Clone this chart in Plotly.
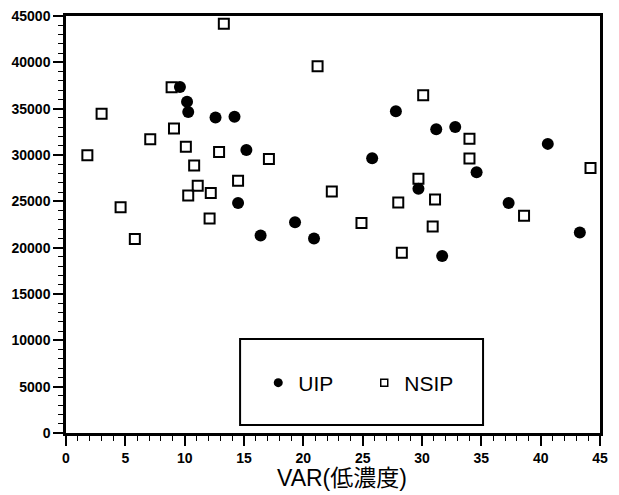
import plotly.graph_objects as go

# UIP (filled circles)
uip_x = [9.6, 10.2, 10.3, 12.6, 14.2, 15.2, 14.5, 16.4, 19.3, 20.9,
         25.8, 27.8, 29.7, 31.2, 32.8, 34.6, 31.7, 37.3, 40.6, 43.3]
uip_y = [37350, 35750, 34650, 34050, 34120, 30540, 24830, 21320, 22740, 21000,
         29650, 34730, 26350, 32770, 33020, 28130, 19090, 24830, 31200, 21640]

# NSIP (open squares)
nsip_x = [1.8, 3.0, 4.6, 5.8, 7.1, 8.9, 9.1, 10.1, 10.3, 10.8,
          11.1, 12.2, 12.1, 13.3, 12.9, 14.5, 17.1, 21.2, 22.4, 24.9,
          28.0, 29.7, 30.1, 31.1, 30.9, 34.0, 34.0, 38.6, 44.2, 28.3]
nsip_y = [29970, 34440, 24370, 20930, 31710, 37320, 32850, 30900, 25640, 28880,
          26680, 25900, 23160, 44160, 30330, 27210, 29580, 39580, 26070, 22660,
          24870, 27450, 36460, 25190, 22280, 31750, 29620, 23450, 28590, 19440]

x_title = "VAR(低濃度)"
series_names = ["UIP", "NSIP"]

fig = go.Figure()
fig.add_trace(go.Scatter(
    x=uip_x, y=uip_y, mode="markers", name=series_names[0], showlegend=False,
    marker=dict(symbol="circle", size=12, color="black"),
))
fig.add_trace(go.Scatter(
    x=nsip_x, y=nsip_y, mode="markers", name=series_names[1], showlegend=False,
    marker=dict(symbol="square-open", size=10, color="black", line=dict(width=2, color="black")),
))
# legend entries (smaller symbols, as in the reference legend)
fig.add_trace(go.Scatter(
    x=[None], y=[None], mode="markers", name=series_names[0],
    marker=dict(symbol="circle", size=9, color="black"),
))
fig.add_trace(go.Scatter(
    x=[None], y=[None], mode="markers", name=series_names[1],
    marker=dict(symbol="square-open", size=7, color="black", line=dict(width=1.5, color="black")),
))

tickfont = dict(family="Liberation Sans, Arial, sans-serif", size=14, color="black", weight="bold")

fig.update_xaxes(
    range=[0, 45], tick0=0, dtick=5, ticks="outside", ticklen=10, tickwidth=1.5,
    tickcolor="black", showline=True, linecolor="black", linewidth=2.5, mirror=True,
    showgrid=False, zeroline=False, tickfont=tickfont, automargin=False,
    ticklabeloverflow="allow",
    minor=dict(dtick=1, ticks="outside", ticklen=5, tickwidth=1, tickcolor="black"),
)
fig.update_yaxes(
    range=[0, 45000], tick0=0, dtick=5000, ticks="outside", ticklen=10, tickwidth=1.5,
    tickcolor="black", showline=True, linecolor="black", linewidth=2.5, mirror=True,
    showgrid=False, zeroline=False, tickfont=tickfont, tickformat="d", automargin=False,
    ticklabeloverflow="allow",
    minor=dict(dtick=1000, ticks="outside", ticklen=5, tickwidth=1, tickcolor="black"),
)

# x-axis title (slightly right of centre, as in the reference)
fig.add_annotation(
    text=x_title, xref="paper", yref="paper", x=0.516, y=0,
    xanchor="center", yanchor="middle", yshift=-45, showarrow=False,
    font=dict(family="Liberation Sans, Noto Sans CJK JP, sans-serif", size=23, color="black"),
)

# legend frame: page y 339..425, plot spans fig y 8..425 (page 16..433)
fig.add_shape(type="rect", xref="paper", yref="paper",
              x0=0.326, x1=0.781, y0=0.0192, y1=0.2254,
              line=dict(color="black", width=2), fillcolor="white", layer="below")

# page has an 8px body margin, so the figure is sized/offset to compensate
fig.update_layout(
    width=611, height=487,
    margin=dict(l=58, r=19, t=8, b=62),
    plot_bgcolor="white", paper_bgcolor="white",
    showlegend=True,
    legend=dict(orientation="h", x=0.36, y=0.1199, xanchor="left", yanchor="middle",
                bgcolor="rgba(0,0,0,0)", borderwidth=0,
                font=dict(family="Liberation Sans, Arial, sans-serif", size=21, color="black"),
                itemsizing="trace", entrywidth=61),
)

fig.write_html("out.html")
